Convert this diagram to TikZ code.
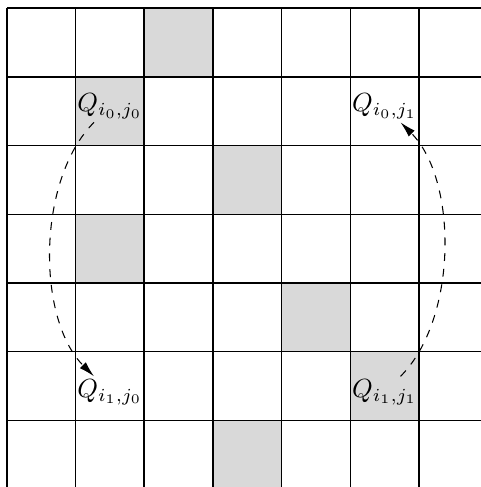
\documentclass[tikz,border=0pt]{standalone}
\usepackage{amsmath}
\usepackage{tikz}
\usetikzlibrary{arrows.meta}

\begin{document}
\begin{tikzpicture}[scale=0.92,
                    marked/.style={fill=black!15},
                    lbl/.style={inner sep=1pt},
                    jump/.style={-{Latex[length=6pt,width=3.2pt]}, dashed, bend right=45, looseness=0.82}]
  \useasboundingbox (-0.1,0.03) rectangle (6.9,7.12);
  \clip (-0.1,0.03) rectangle (6.9,7.12);
  \foreach \c/\r in {2/0, 1/1, 3/2, 1/3, 4/4, 5/5, 3/6}
    \fill[marked] (\c,6-\r) rectangle ++(1,1);
  \draw[line width=0.6pt] (0,0) grid (7,7);
  \node[lbl] (q00) at (1.5,5.57) {\(Q_{i_0,j_0}\)};
  \node[lbl] (q01) at (5.5,5.57) {\(Q_{i_0,j_1}\)};
  \node[lbl] (q10) at (1.5,1.41) {\(Q_{i_1,j_0}\)};
  \node[lbl] (q11) at (5.5,1.41) {\(Q_{i_1,j_1}\)};
  \draw[jump] (q00) to (q10);
  \draw[jump] (q11) to (q01);
\end{tikzpicture}
\end{document}
